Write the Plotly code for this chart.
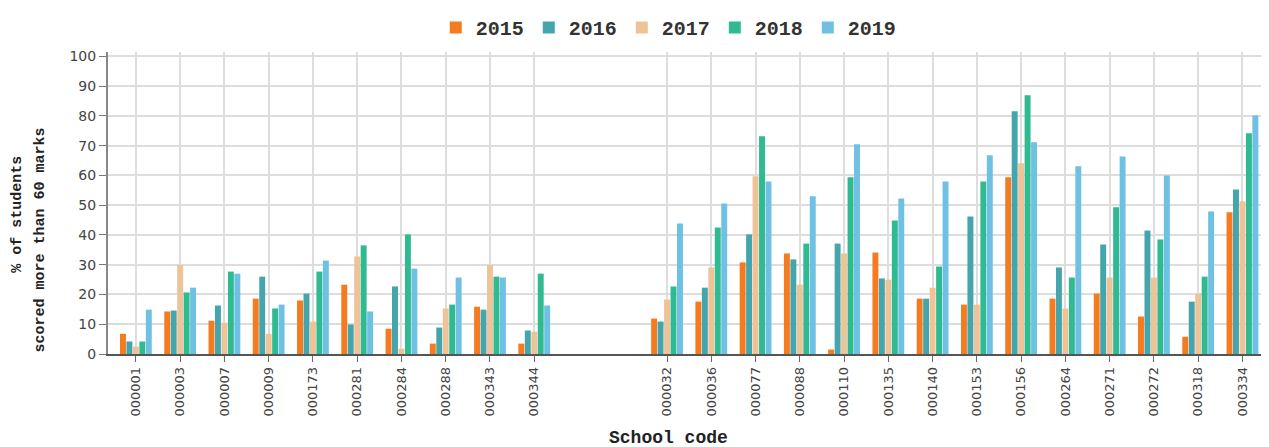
import plotly.graph_objects as go

# school codes, left block and right block (gap in between)
left_codes = ["000001", "000003", "000007", "000009", "000173", "000281", "000284", "000288", "000343", "000344"]
right_codes = ["000032", "000036", "000077", "000088", "000110", "000135", "000140", "000153", "000156",
               "000264", "000271", "000272", "000318", "000334"]
codes = left_codes + right_codes

years = ["2015", "2016", "2017", "2018", "2019"]

# % of students scored more than 60 marks
y2015 = [6.8, 14.3, 11.2, 18.6, 18.0, 23.3, 8.5, 3.5, 15.9, 3.5,
         11.9, 17.6, 30.8, 33.8, 1.5, 34.1, 18.6, 16.6, 59.4, 18.6, 20.3, 12.6, 5.8, 47.6]
y2016 = [4.2, 14.6, 16.3, 26.0, 20.3, 9.9, 22.7, 8.9, 14.9, 7.9,
         10.9, 22.3, 40.2, 31.8, 37.1, 25.4, 18.6, 46.2, 81.6, 29.1, 36.8, 41.5, 17.6, 55.3]
y2017 = [2.5, 29.9, 10.5, 6.8, 10.9, 32.8, 1.8, 15.3, 29.9, 7.5,
         18.3, 29.1, 59.7, 23.3, 33.8, 25.0, 22.3, 16.6, 64.1, 15.3, 25.7, 25.7, 20.3, 51.3]
y2018 = [4.2, 20.7, 27.7, 15.3, 27.7, 36.5, 40.2, 16.6, 26.0, 27.0,
         22.7, 42.5, 73.2, 37.1, 59.4, 44.9, 29.4, 58.0, 87.0, 25.7, 49.3, 38.5, 26.0, 74.2]
y2019 = [14.9, 22.3, 27.0, 16.6, 31.4, 14.3, 28.7, 25.7, 25.7, 16.3,
         43.9, 50.6, 58.0, 53.0, 70.5, 52.3, 58.0, 66.8, 71.2, 63.1, 66.4, 60.0, 47.9, 80.2]

colors = ["#F47B20", "#45A5AD", "#EEC398", "#2FBA92", "#6FC1E3"]

fig = go.Figure()
for name, vals, col in zip(years, [y2015, y2016, y2017, y2018, y2019], colors):
    fig.add_trace(go.Bar(x=codes, y=vals, name=name, marker_color=col, marker_line_width=0))

# two blank slots make the gap between the blocks
cat_order = left_codes + [" ", "  "] + right_codes

slab = "Liberation Mono"
sans = "DejaVu Sans"

# page body has an 8px margin, so the figure is 8px smaller on each side
fig.update_layout(
    width=1261, height=439,
    margin=dict(l=100, r=0, t=44, b=93, pad=0),
    plot_bgcolor="white", paper_bgcolor="white",
    barmode="group", bargap=0.27, bargroupgap=0.08,
    legend=dict(orientation="h", x=0.483, xanchor="center", y=1.0, yanchor="top",
                yref="container", font=dict(family=slab, size=20, color="#333", weight="bold"),
                tracegroupgap=0, traceorder="normal"),
    font=dict(family=sans, color="#333"),
)

fig.update_xaxes(
    type="category", categoryorder="array", categoryarray=cat_order,
    range=[-0.63, 25.6],
    tickmode="array", tickvals=codes, ticktext=codes,
    tickangle=-90, tickfont=dict(family=sans, size=13, color="#444"),
    ticks="outside", ticklen=6, tickcolor="#666",
    showgrid=True, gridcolor="#ddd", gridwidth=1.5,
    showline=True, linecolor="#555", linewidth=1.5,
    automargin=False,
)
fig.update_yaxes(
    range=[0, 101.5], dtick=10, tick0=0,
    tickfont=dict(family=sans, size=14, color="#444"),
    ticks="outside", ticklen=7, tickcolor="#777",
    showgrid=True, gridcolor="#ddd", gridwidth=1.5,
    zeroline=False,
    showline=True, linecolor="#888", linewidth=2,
    automargin=False,
)

# axis titles
fig.add_annotation(text="<b>% of students</b>", xref="paper", yref="paper", x=0, y=0.461,
                   xanchor="center", yanchor="middle",
                   xshift=-90, textangle=-90, showarrow=False,
                   font=dict(family=slab, size=15, color="#222"))
fig.add_annotation(text="<b>scored more than 60 marks</b>", xref="paper", yref="paper", x=0, y=0.376,
                   xanchor="center", yanchor="middle",
                   xshift=-68, textangle=-90, showarrow=False,
                   font=dict(family=slab, size=15, color="#222"))
fig.add_annotation(text="<b>School code</b>", xref="paper", yref="paper", x=0.483, y=0,
                   xanchor="center", yanchor="middle",
                   yshift=-84, showarrow=False,
                   font=dict(family=slab, size=18, color="#222"))

fig.write_html("out.html")
